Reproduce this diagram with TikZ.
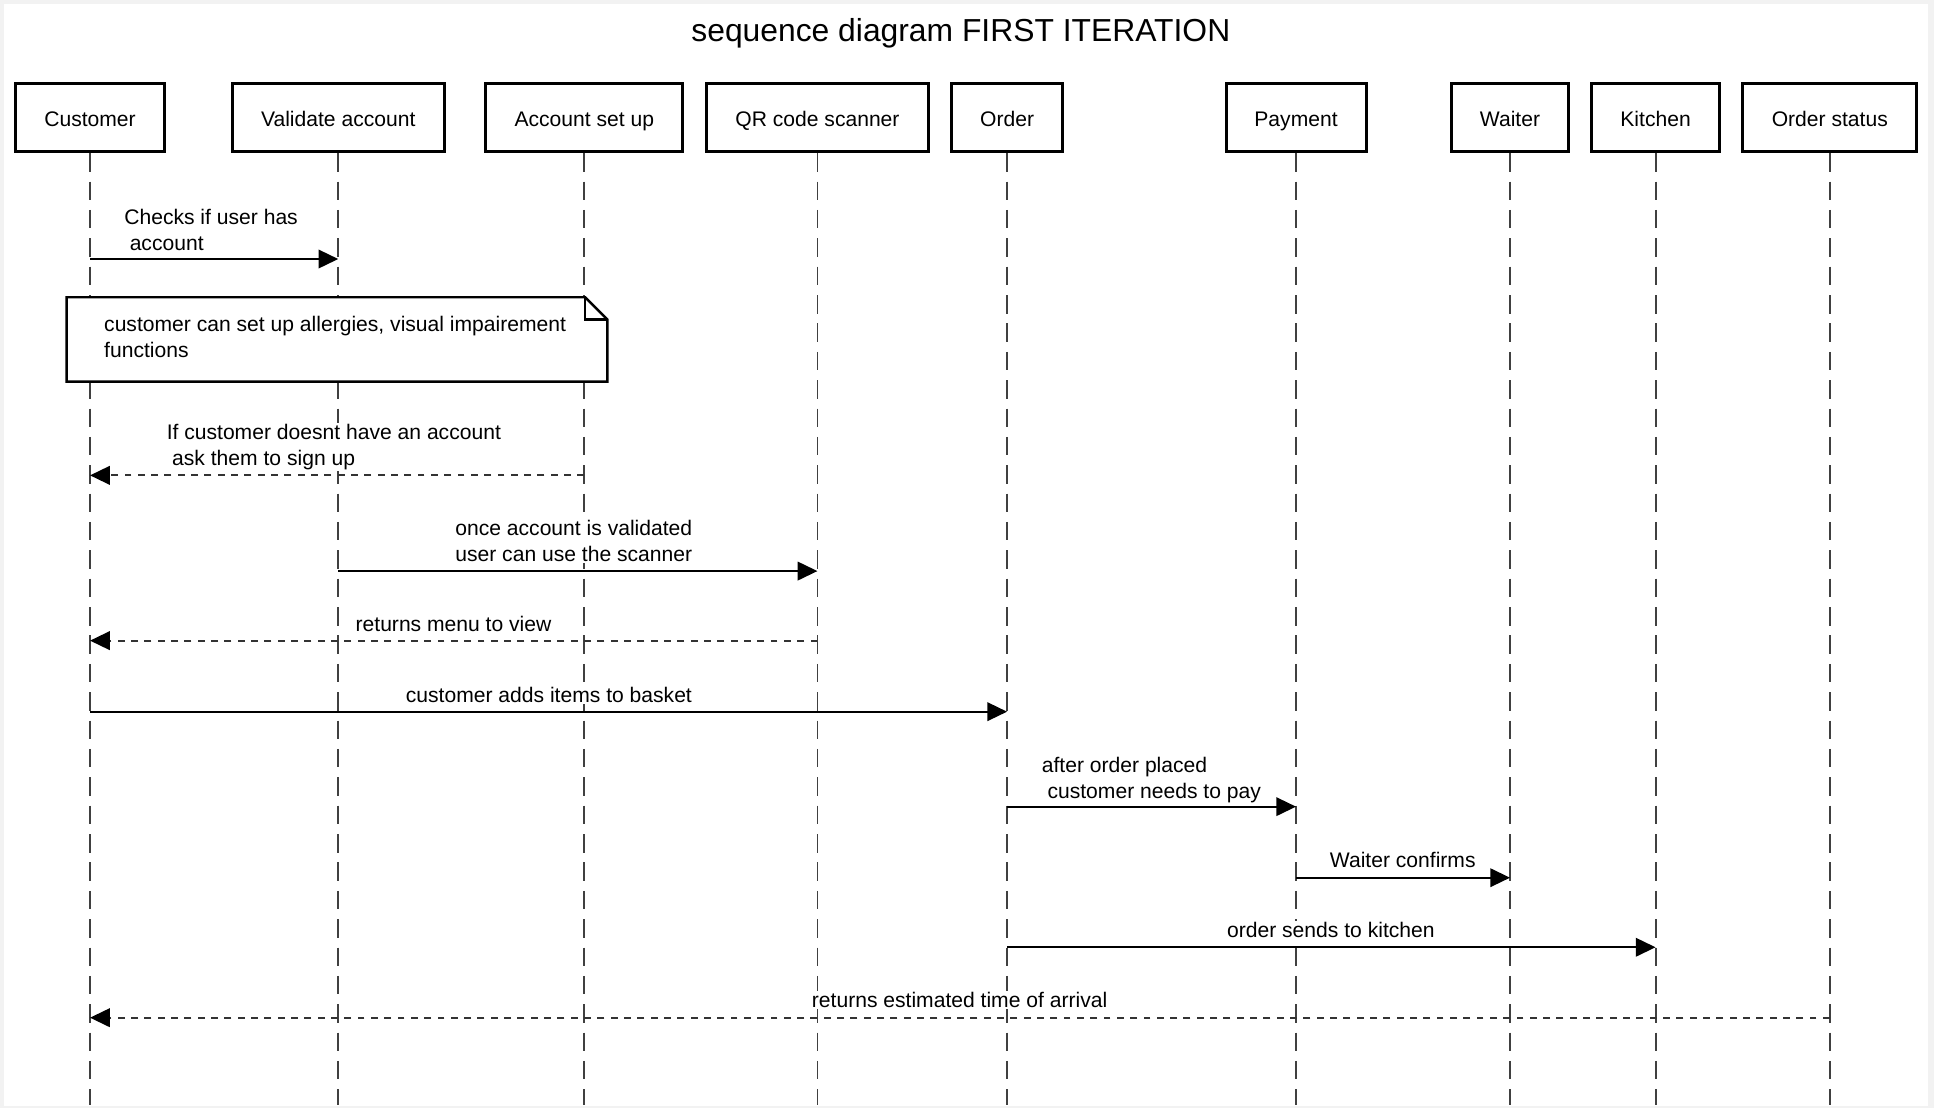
\documentclass[tikz,border=0pt]{standalone}
\usepackage{fontspec}
\setmainfont{Liberation Sans}
\usetikzlibrary{arrows.meta}
\definecolor{bggray}{RGB}{242,242,242}
\begin{document}
\begin{tikzpicture}[x=1pt,y=-1pt,
  lbl/.style={font=\fontsize{17.1}{21}\selectfont},
  actor/.style={draw, line width=2.4pt, rectangle, inner sep=0pt, minimum height=55.4pt, text height=13.8pt, text depth=0pt, lbl},
  life/.style={line width=1.5pt, black!75, dash pattern=on 15pt off 8pt},
  msg/.style={line width=1.7pt, -{Triangle[length=16pt,width=15pt,color=black]}},
  ret/.style={msg, black!80, dash pattern=on 5.6pt off 5.2pt},
  mlabel/.style={lbl, fill=white, inner sep=1pt, align=left},
  slabel/.style={lbl, fill=white, inner sep=1pt, anchor=base},
]
\fill[bggray] (0,0) rectangle (1568,898.3);
\fill[white] (3.2,3.2) rectangle (1563.2,896.7);
\useasboundingbox (0,0) rectangle (1568,898.3);

\node[font=\fontsize{25.8}{31}\selectfont, anchor=base, inner sep=0pt] (title) at (779,33.6) {sequence diagram FIRST ITERATION};

\node[actor, minimum width=121pt]   (c1) at (73,95.3)     {Customer};
\node[actor, minimum width=171.5pt] (c2) at (274.25,95.3) {Validate account};
\node[actor, minimum width=159.5pt] (c3) at (473.75,95.3) {Account set up};
\node[actor, minimum width=179.5pt] (c4) at (662.75,95.3) {QR code scanner};
\node[actor, minimum width=90pt]    (c5) at (816.5,95.3)  {Order};
\node[actor, minimum width=113.5pt] (c6) at (1050.75,95.3){Payment};
\node[actor, minimum width=94.5pt]  (c7) at (1224.25,95.3){Waiter};
\node[actor, minimum width=103.5pt] (c8) at (1342.25,95.3){Kitchen};
\node[actor, minimum width=141pt]   (c9) at (1483.5,95.3) {Order status};

\coordinate (bottom) at (0,896);
\foreach \i in {1,...,9} \draw[life] (c\i.south) -- (c\i.south |- bottom);

\coordinate (r1) at (0,210);
\coordinate (r2) at (0,385.4);
\coordinate (r3) at (0,463);
\coordinate (r4) at (0,519.4);
\coordinate (r5) at (0,577);
\coordinate (r6) at (0,654);
\coordinate (r7) at (0,711.6);
\coordinate (r8) at (0,768);
\coordinate (r9) at (0,825.1);

% messages
\draw[msg] (c1 |- r1) -- (c2 |- r1);
\node[mlabel, anchor=base west] (t1) at (99.6,202.7) {Checks if user has\\\hspace*{4.4pt}account};

% note
\node[minimum width=438pt, minimum height=68pt, inner sep=0pt, anchor=north west] (note) at (54,241) {};
\draw[line width=1.9pt, fill=white] (note.south west) -- (note.north west) -- ([xshift=-18pt]note.north east) -- ([yshift=-18pt]note.north east) -- (note.south east) -- cycle;
\draw[line width=1.9pt] ([xshift=-18pt]note.north east) -- ([xshift=-18pt,yshift=-18pt]note.north east) -- ([yshift=-18pt]note.north east);
\node[lbl, align=left, anchor=base west, inner sep=0pt] (notetext) at (84.3,290) {customer can set up allergies, visual impairement\\functions};

\draw[ret] (c3 |- r2) -- (c1 |- r2);
\node[mlabel, anchor=base west] (t2) at (134,377.3) {If customer doesnt have an account\\\hspace*{4.4pt}ask them to sign up};

\draw[msg] (c2 |- r3) -- (c4 |- r3);
\node[mlabel, anchor=base west] (t3) at (368,455.5) {once account is validated\\user can use the scanner};

\draw[ret] (c4 |- r4) -- (c1 |- r4);
\node[slabel] (t4) at (367.7,512.1) {returns menu to view};

\draw[msg] (c1 |- r5) -- (c5 |- r5);
\node[slabel] (t5) at (445,569.2) {customer adds items to basket};

\draw[msg] (c5 |- r6) -- (c6 |- r6);
\node[mlabel, anchor=base west] (t6) at (843.5,647.1) {after order placed\\\hspace*{4.6pt}customer needs to pay};

\draw[msg] (c6 |- r7) -- (c7 |- r7);
\node[slabel] (t7) at (1137.3,703.6) {Waiter confirms};

\draw[msg] (c5 |- r8) -- (c8 |- r8);
\node[slabel] (t8) at (1079,760.4) {order sends to kitchen};

\draw[ret] (c9 |- r9) -- (c1 |- r9);
\node[slabel] (t9) at (778,816.6) {returns estimated time of arrival};
\end{tikzpicture}
\end{document}
